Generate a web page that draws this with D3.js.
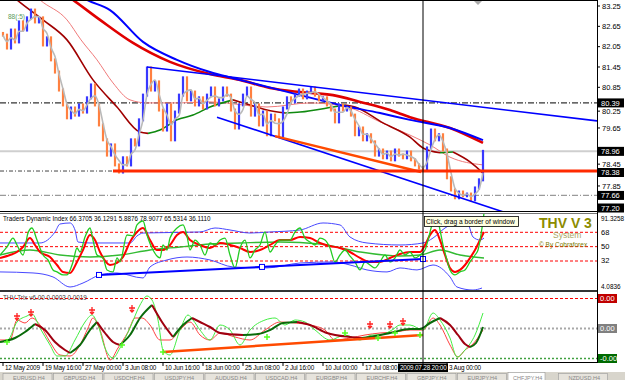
<!DOCTYPE html>
<html><head><meta charset="utf-8">
<script src="https://cdn.jsdelivr.net/npm/d3@7"></script>
<style>
html,body{margin:0;padding:0;background:#fff;}
svg{display:block;font-family:"Liberation Sans",Arial,sans-serif;}
</style></head><body>
<svg id="c" width="625" height="380"></svg>
<script>
// ---------- DATA ----------
const closes = [82.39,82.01,82.54,82.19,82.78,82.54,82.90,83.13,82.78,82.90,
82.10,82.31,81.66,81.30,80.77,80.33,79.95,80.24,80.03,80.33,
80.12,80.54,80.92,80.33,79.74,79.30,78.85,79.15,78.56,78.35,
78.77,78.56,79.30,79.15,79.89,80.62,81.42,80.77,81.01,80.18,
79.59,80.33,79.30,80.12,80.62,81.13,80.48,80.71,80.33,80.54,
80.24,80.62,80.83,80.33,80.48,80.83,80.62,80.18,79.65,80.33,
80.62,80.83,80.03,80.33,79.74,80.12,79.45,80.03,79.89,79.42,
80.24,80.54,80.42,80.62,80.77,80.54,80.71,80.83,80.62,80.48,
80.54,80.33,80.18,79.83,80.33,80.18,80.24,80.03,79.45,79.65,
79.30,79.45,79.24,78.85,79.00,78.77,78.94,78.71,79.00,78.85,
78.77,78.94,78.71,78.56,78.47,78.41,79.06,79.59,79.30,79.45,
79.00,78.18,77.82,77.59,77.76,77.65,77.70,77.53,77.88,78.12,78.96];

const timeLabels = ["12 May 2009","19 May 16:00","27 May 00:00","3 Jun 08:00","10 Jun 16:00","18 Jun 00:00","25 Jun 08:00","2 Jul 16:00","10 Jul 00:00","17 Jul 08:00","3 Aug 00:00"];
const timeLabelIdx = [0,10,20,30,40,50,60,70,80,90,111];
const cursorIdx = 105, cursorLabel = "2009.07.28 20:00";

const priceTicks = [83.25,82.65,82.05,81.45,80.85,80.25,79.65,78.45,77.85];
const priceBoxes = [80.39,78.96,78.38,77.66,77.20];

// moving averages [barIndex, price]
const blueMA = [[17,83.72],[21,83.43],[26.75,83.13],[35,82.19],[43.5,81.66],[51.75,81.30],[57.5,81.12],[64.25,80.92],[74.25,80.62],[84.25,80.33],[94.25,80.09],[101.75,79.89],[111.75,79.65],[120,79.29]];
const redMA = [[14,83.72],[17.5,83.43],[24.25,82.84],[32.5,82.16],[41.75,81.60],[51.75,81.24],[59.25,81.07],[66.75,80.83],[74.25,80.71],[82.5,80.62],[89.25,80.42],[96.75,80.18],[101.75,79.97],[111.75,79.65],[120,79.21]];
const pinkMA = [[6,83.8],[9.25,83.43],[16,82.84],[19.5,82.25],[23.5,81.66],[27.5,80.98],[31.75,80.48],[36,80.39],[44.25,80.39],[51.75,80.42],[66,80.27],[76.75,80.39],[86,80.27],[94.25,79.83],[101.75,79.44],[106.75,79.15],[111.75,78.79],[120,78.56]];
const trendMA = [[0,83.8],[3.5,83.43],[10,82.84],[16,82.25],[22.5,81.07],[28.5,80.27],[34.25,79.53],[36.25,79.49],[39.25,79.59],[43.5,79.89],[47.5,80.03],[51.75,80.27],[57.5,80.48],[61.75,80.33],[66,80.18],[70.5,80.09],[74.25,80.12],[82.5,80.27],[85.5,80.33],[88,80.27],[95,79.80],[101.75,79.38],[105,79.06],[109.25,78.92],[112.5,78.94],[116.75,78.65],[120,78.32]];

// trend lines [barIndex, price]
const upperTrend = [[36,81.45],[148.5,79.86]];
const lowerTrend = [[53.5,79.97],[130,76.98]];
const supportTrend = [[68,79.41],[104.5,78.35]];
const supportLevel = {from:27.5, value:78.38};

// Traders Dynamic Index [barIndex, value]
const tdiLevels = [68,50,32];
const tdiRsi = [[-0.75,39.5],[1,49.6],[2.5,60.8],[3.5,52.1],[5,39.5],[6.25,67.1],[7.25,73.4],[8.5,58.3],[10,39.5],[11.25,33.3],[12.5,20.8],[13.5,18.3],[15,14.5],[16,14.5],[17.5,30.8],[18.5,48.3],[19.25,43.3],[20.5,62.1],[21.75,73.4],[22.5,58.3],[23.5,39.5],[25,35.8],[26,20.8],[27.5,18.3],[28.5,35.8],[29.25,30.8],[31,64.6],[32.5,63.4],[33.5,77.2],[35,82.2],[36,64.6],[37.5,45.8],[39.25,35.8],[40,52.1],[41,45.8],[41.75,60.8],[43.5,73.4],[45,77.2],[46,63.4],[46.75,45.8],[48,58.3],[49.25,52.1],[50.5,39.5],[51.75,54.6],[53,52.1],[54.25,58.3],[55.5,60.8],[56.75,39.5],[58,23.3],[59.25,48.3],[60.5,58.3],[61.75,35.8],[63,45.8],[64.25,52.1],[65.5,68.4],[66.75,43.3],[68,52.1],[69.25,58.3],[70.5,58.3],[71.75,58.3],[73,68.4],[74.25,73.4],[75.5,60.8],[76.75,55.8],[78,52.1],[79.25,60.8],[80.5,58.3],[81.75,48.3],[83,30.8],[84.25,39.5],[85.5,45.8],[86.75,38.2],[88,30.8],[89.25,20.8],[90.5,30.8],[91.75,27.0],[93,23.3],[94.25,30.8],[95.5,39.5],[96.75,30.8],[98,35.8],[99.25,45.8],[100.5,39.5],[101.75,43.3],[103,35.8],[104.25,39.5],[105.5,45.8],[106.25,58.3],[107.25,77.2],[108.5,85.9],[109.25,70.9],[110,52.1],[111,33.3],[111.75,20.8],[113,14.5],[114.25,18.3],[115.5,20.8],[116.75,30.8],[118,39.5],[118.75,45.8],[119.75,73.4],[120.25,92.2]];
const tdiSignal = [[-0.75,35.8],[1.75,39.5],[3.5,43.3],[5,49.6],[6.75,60.8],[8,52.1],[9.25,43.3],[11.75,37.0],[13.5,27.0],[15,18.3],[16.75,17.0],[18.5,30.8],[20,45.8],[21.75,64.6],[23,58.3],[24.25,43.3],[26.75,27.0],[28.5,29.5],[30,37.0],[31.75,55.8],[33.5,68.4],[35,73.4],[36.75,58.3],[38.5,45.8],[40,45.8],[41.75,52.1],[43.5,64.6],[45,68.4],[46.75,58.3],[49.25,52.1],[51.75,48.3],[54.25,54.6],[56.75,52.1],[59.25,48.3],[61.75,43.3],[64.25,45.8],[66.75,52.1],[69.25,58.3],[71.75,58.3],[74.25,62.1],[76.75,60.8],[79.25,54.6],[81.75,50.8],[84.25,48.3],[86.75,43.3],[89.25,35.8],[91.75,30.8],[94.25,30.8],[96.75,35.8],[99.25,40.8],[101.75,43.3],[104.25,43.3],[105.5,52.1],[106.75,64.6],[108,70.9],[109.25,58.3],[110.5,39.5],[111.75,23.3],[113,18.3],[114.25,20.8],[115.5,27.0],[116.75,35.8],[118,45.8],[119.25,58.3],[120.25,68.4]];
const tdiBase = [[-0.75,39.5],[6.75,45.8],[14.25,39.5],[21.75,37.0],[29.25,39.5],[36.75,45.8],[44.25,49.6],[51.75,53.4],[59.25,54.6],[69.25,55.8],[79.25,53.4],[89.25,43.3],[99.25,38.2],[104.25,39.5],[109.25,45.8],[114.25,39.5],[120.25,35.8]];
const tdiUpper = [[-0.75,54.6],[9.25,54.6],[13,68.4],[14.25,78.4],[16.75,79.7],[18,70.9],[18.75,55.8],[21.75,54.6],[31.75,54.6],[33.5,63.4],[35,67.1],[49.25,68.4],[53,73.4],[56.75,70.9],[61.75,67.1],[66.75,68.4],[74.25,70.9],[80,79.7],[84.25,77.2],[86.75,62.1],[91,54.6],[99.25,52.1],[105,54.6],[107.5,60.8],[110.5,73.4],[114.25,80.9],[116,80.9],[117.5,62.1],[119.25,58.3],[120.25,60.8]];
const tdiLower = [[-0.75,18.3],[7.5,17.0],[12.5,12.0],[16.75,-0.6],[20,4.4],[24.25,14.5],[28.5,17.0],[35,10.7],[36.75,24.5],[41,33.3],[46,37.0],[51.75,33.3],[57.5,24.5],[66,23.3],[74.25,29.5],[82.5,30.8],[86.75,27.0],[91,20.8],[96,18.3],[99.25,23.3],[103.5,20.8],[107.5,27.0],[111.75,12.0],[113.5,-0.6],[117.5,-4.4],[119.75,-1.9]];
const tdiTrend = [[24,14.5],[105,34.5]];
const tdiTrendMarks = [24,64.75,105];

// THV Trix (units of 0.0001)
const trixLevels = [30,0,-30];
const trixSlow = [[-0.75,-13.5],[3,-9.5],[5.5,-3.5],[8,4.5],[10.5,-1.5],[13,-13.5],[15.5,-21.5],[16.75,-24.5],[19.25,-16.5],[21.75,-1.5],[23.5,6.5],[25.5,-4.5],[27.5,-13.5],[29.25,-16.5],[31.75,-6.5],[34.25,10.5],[37.25,23.5],[39.75,6.5],[42.5,-8.5],[45,3.5],[47.25,10.5],[49.25,6.5],[51.75,1.5],[54.25,-4.5],[60,-6.5],[63.75,-5.5],[66.75,-1.5],[70,5.5],[73.5,6.5],[76.75,3.5],[81,-4.5],[86.75,-8.5],[89.75,-9.5],[93,-7.5],[96.75,-4.5],[101.75,-0.5],[104.25,-0.5],[106.75,5.5],[109.25,10.5],[111.75,3.5],[113.75,-6.5],[115.5,-15.5],[116.75,-18.5],[118.25,-14.5],[120,1.5]];
const trixFast = [[-0.75,-13.5],[1.25,-11.5],[3.5,6.5],[6,12.5],[7.25,14.5],[9.25,0.5],[11.75,-16.5],[13.5,-27.5],[15.5,-27.5],[18,-11.5],[20.5,6.5],[22.25,13.5],[23.75,3.5],[25.5,-19.5],[27.5,-29.5],[29.25,-19.5],[31.75,0.5],[34.25,23.5],[36,32.5],[37.25,28.5],[38.75,8.5],[40,-21.5],[41.75,-26.5],[44.25,-1.5],[46.25,13.5],[47.5,8.5],[49.25,-1.5],[51.75,-11.5],[54.25,3.5],[56.75,-1.5],[59.25,-16.5],[61.75,-1.5],[65.5,8.5],[68,10.5],[70.5,3.5],[73,8.5],[75.5,6.5],[78,-1.5],[81.75,-11.5],[85.5,-6.5],[89.25,-11.5],[92.25,-6.5],[94.25,-6.5],[97.25,-1.5],[99.25,3.5],[101.75,3.5],[105,-1.5],[107.5,15.5],[109.25,8.5],[111.75,-9.5],[113.5,-28.5],[115.5,-21.5],[118,-6.5],[120,15.5]];
const trixSig = [[-0.75,-11.5],[1.75,-11.5],[3.5,8.5],[5.5,5.5],[7.25,10.5],[9.25,3.5],[11.75,-13.5],[14.25,-26.5],[16.75,-27.5],[19.25,-16.5],[21.25,0.5],[22.5,10.5],[24.25,-1.5],[26.75,-31.5],[28.75,-19.5],[31.25,-3.5],[33,10.5],[34.75,10.5],[36.75,3.5],[39.25,-11.5],[41.75,-11.5],[44.25,-1.5],[46.75,6.5],[49.25,-6.5],[51.75,-11.5],[54.25,-4.5],[58,-8.5],[61.75,-11.5],[65.5,-1.5],[69.25,6.5],[73,5.5],[76.75,3.5],[80.5,-1.5],[83,-11.5],[86.75,-9.5],[90.5,-6.5],[94.25,-4.5],[98,-3.5],[101.75,-1.5],[105,-1.5],[107.5,10.5],[109.25,3.5],[111.75,-16.5],[113.75,-28.5],[115.5,-21.5],[117.25,-16.5],[120,-1.5]];
const trixSellMarks = [[3.5,8.5],[7,12.5],[22.25,14.5],[32.25,16.5],[91.75,0.5],[96.75,0.5],[100,3.5]];
const trixBuyMarks = [[1,-13.5],[29.75,-16.5],[40,-23.5],[66,-8.5],[85.5,-4.5],[93.75,-9.5],[98,-4.5],[104.25,-6.5]];
const trixTrend = [[40,-23.5],[105,-6.5]];

const tabNames = ["EURUSD,H4","GBPUSD,H4","USDCHF,H4","USDJPY,H4","AUDUSD,H4","USDCAD,H4","EURGBP,H4","EURCHF,H4","GBPJPY,H4","EURJPY,H4","CHFJPY,H4","NZDUSD,H4"];

// ---------- DRAW ----------
const svg = d3.select("#c");
const PR = 597;
const x = d3.scaleLinear().domain([0,148.5]).range([3,597]);
const yP = d3.scaleLinear().domain([77.20,83.25]).range([211,6]);
const yT = d3.scaleLinear().domain([32,68]).range([261,232.3]);
const yX = d3.scaleLinear().domain([-30,30]).range([358.5,298.5]);

svg.append("rect").attr("width",625).attr("height",380).attr("fill","#fff");
const defs = svg.append("defs");
function clip(id,y0,y1){defs.append("clipPath").attr("id",id).append("rect").attr("x",0).attr("y",y0).attr("width",PR).attr("height",y1-y0);}
clip("cp1",1,211); clip("cp2",214,290); clip("cp3",293,362);

const g1 = svg.append("g").attr("clip-path","url(#cp1)");
const g2 = svg.append("g").attr("clip-path","url(#cp2)");
const g3 = svg.append("g").attr("clip-path","url(#cp3)");

const mline = (ys) => d3.line().x(d=>x(d[0])).y(d=>ys(d[1])).curve(d3.curveMonotoneX);
const sline = (ys) => d3.line().x(d=>x(d[0])).y(d=>ys(d[1]));

function hline(g,y,color,w,dash,x0){
  g.append("line").attr("x1",x0||0).attr("x2",PR).attr("y1",y).attr("y2",y)
   .attr("stroke",color).attr("stroke-width",w).attr("stroke-dasharray",dash||null);
}
function runsOf(pts){
  const runs=[]; let cur=[pts[0]]; let dir=null;
  for(let k=1;k<pts.length;k++){
    const d = pts[k][1]>=pts[k-1][1] ? 1 : -1;
    if(dir!==null && d!==dir){ runs.push({dir,pts:cur}); cur=[pts[k-1]]; }
    dir=d; cur.push(pts[k]);
  }
  runs.push({dir,pts:cur}); return runs;
}

// ---- main panel ----
hline(g1,yP(80.39),"#000",1,"6,2,1,2");
hline(g1,yP(78.96),"#cfcfcf",2);
hline(g1,yP(78.38),"#444",1,"4,2,1,2");
hline(g1,yP(77.66),"#9a9a9a",1.2,"6,2,1,2");

g1.append("path").datum(pinkMA).attr("d",mline(yP)).attr("fill","none").attr("stroke","#f07a7a").attr("stroke-width",1);
runsOf(trendMA).forEach(r=>{
  g1.append("path").datum(r.pts).attr("d",mline(yP)).attr("fill","none")
    .attr("stroke", r.dir>0 ? "#108a10" : "#a00000").attr("stroke-width",1.6);
});
g1.append("path").datum(redMA).attr("d",mline(yP)).attr("fill","none").attr("stroke","#e00000").attr("stroke-width",2.6);
g1.append("path").datum(blueMA).attr("d",mline(yP)).attr("fill","none").attr("stroke","#0000ff").attr("stroke-width",2);

// price bars (previous close -> close)
const bars = closes.map((c,i)=>({i, o: i>0?closes[i-1]:c+0.05, c}));
g1.selectAll("line.bar").data(bars).enter().append("line").attr("class","bar")
  .attr("x1",d=>x(d.i)).attr("x2",d=>x(d.i))
  .attr("y1",d=>Math.min(yP(d.o),yP(d.c))-1.5).attr("y2",d=>Math.max(yP(d.o),yP(d.c))+1.5)
  .attr("stroke",d=>d.c>=d.o?"#3838ff":"#ff8040").attr("stroke-width",2.2);
const grayPts = closes.map((c,i)=>{const s=closes.slice(Math.max(0,i-2),i+1);return [i,d3.mean(s)];});
g1.append("path").datum(grayPts).attr("d",mline(yP)).attr("fill","none").attr("stroke","#b9b9b9").attr("stroke-width",1.6);

// trend lines
g1.append("path").datum(upperTrend).attr("d",sline(yP)).attr("stroke","#0000ff").attr("stroke-width",1.6).attr("fill","none");
g1.append("path").datum(lowerTrend).attr("d",sline(yP)).attr("stroke","#0000ff").attr("stroke-width",1.6).attr("fill","none");
g1.append("path").datum(supportTrend).attr("d",sline(yP)).attr("stroke","#ff4a00").attr("stroke-width",2.5).attr("fill","none");
g1.append("line").attr("x1",x(supportLevel.from)).attr("x2",PR).attr("y1",yP(supportLevel.value)).attr("y2",yP(supportLevel.value))
  .attr("stroke","#ff2a00").attr("stroke-width",3);
g1.append("text").attr("x",8).attr("y",19).attr("font-size",6.5).attr("fill","#5a9a5a").text("88(:5)");
g1.append("path").attr("d","M474,1 L482,1 L478,5 Z").attr("fill","#aaa");

// ---- TDI panel ----
tdiLevels.forEach(v=>hline(g2,yT(v),"#ff0000",1,"3,2"));
g2.append("path").datum(tdiUpper).attr("d",mline(yT)).attr("fill","none").attr("stroke","#4848ff").attr("stroke-width",1);
g2.append("path").datum(tdiLower).attr("d",mline(yT)).attr("fill","none").attr("stroke","#4848ff").attr("stroke-width",1);
g2.append("path").datum(tdiBase).attr("d",mline(yT)).attr("fill","none").attr("stroke","#33bb33").attr("stroke-width",1.4);
g2.append("path").datum(tdiSignal).attr("d",mline(yT)).attr("fill","none").attr("stroke","#ff0000").attr("stroke-width",2);
g2.append("path").datum(tdiRsi).attr("d",mline(yT)).attr("fill","none").attr("stroke","#22cc22").attr("stroke-width",1.3);
g2.append("path").datum(tdiTrend).attr("d",sline(yT)).attr("stroke","#0000ff").attr("stroke-width",2).attr("fill","none");
const tdiTr = d3.scaleLinear().domain(tdiTrend.map(d=>d[0])).range(tdiTrend.map(d=>d[1]));
tdiTrendMarks.forEach(i=>g2.append("rect").attr("x",x(i)-2.5).attr("y",yT(tdiTr(i))-2.5).attr("width",5).attr("height",5).attr("fill","#fff").attr("stroke","#0000ff").attr("stroke-width",1));
svg.append("text").attr("x",3).attr("y",221).attr("font-size",6.3).attr("fill","#000")
  .text("Traders Dynamic Index 66.3705 36.1291 5.8876 78.9077 65.5314 36.1110");

// ---- Trix panel ----
hline(g3,yX(trixLevels[0]),"#ff0000",1,"3,2");
hline(g3,yX(trixLevels[1]),"#a8a8a8",2,"2,2");
hline(g3,yX(trixLevels[2]),"#40a040",1.5,"2,2");
g3.append("path").datum(trixSig).attr("d",mline(yX)).attr("fill","none").attr("stroke","#ff4040").attr("stroke-width",1);
g3.append("path").datum(trixFast).attr("d",mline(yX)).attr("fill","none").attr("stroke","#44ee44").attr("stroke-width",1);
runsOf(trixSlow).forEach(r=>{
  g3.append("path").datum(r.pts).attr("d",mline(yX)).attr("fill","none")
    .attr("stroke", r.dir>0 ? "#0a6a0a" : "#a00010").attr("stroke-width",2);
});
g3.append("path").datum(trixTrend).attr("d",sline(yX)).attr("stroke","#ff4a00").attr("stroke-width",2.5).attr("fill","none");
trixSellMarks.forEach(d=>{
  const cx=x(d[0]), cy=yX(d[1]);
  g3.append("path").attr("d",`M${cx-3},${cy-4}L${cx+3},${cy-4}M${cx},${cy-7}L${cx},${cy}M${cx-2},${cy-2}L${cx},${cy}L${cx+2},${cy-2}`)
    .attr("stroke","#ff2020").attr("stroke-width",1.3).attr("fill","none");
});
trixBuyMarks.forEach(d=>{
  const cx=x(d[0]), cy=yX(d[1]);
  g3.append("path").attr("d",`M${cx-3},${cy}L${cx+3},${cy}M${cx},${cy-3}L${cx},${cy+3}`)
    .attr("stroke","#55ff22").attr("stroke-width",1.5).attr("fill","none");
});
svg.append("text").attr("x",3).attr("y",300).attr("font-size",6.3).attr("fill","#444").text("THV Trix v6.00 0.0003 0.0019");

// ---- frames ----
svg.append("line").attr("x1",0).attr("x2",PR).attr("y1",0.5).attr("y2",0.5).attr("stroke","#000");
svg.append("line").attr("x1",0).attr("x2",PR+1).attr("y1",211.5).attr("y2",211.5).attr("stroke","#000");
svg.append("line").attr("x1",0).attr("x2",PR).attr("y1",213.5).attr("y2",213.5).attr("stroke","#777");
svg.append("rect").attr("x",0).attr("y",290).attr("width",PR+1).attr("height",2).attr("fill","#333");
svg.append("line").attr("x1",0).attr("x2",PR+1).attr("y1",362.5).attr("y2",362.5).attr("stroke","#000");
svg.append("line").attr("x1",PR+0.5).attr("x2",PR+0.5).attr("y1",0).attr("y2",363).attr("stroke","#000");

// crosshair
svg.append("line").attr("x1",x(cursorIdx)).attr("x2",x(cursorIdx)).attr("y1",0).attr("y2",372).attr("stroke","#000").attr("stroke-width",1);

// ---- price axis ----
const ax = svg.append("g").attr("font-size",7.5).attr("fill","#000");
const tickShift = {"80.25":3.5, "78.45":-4.5, "77.85":-3};
priceTicks.forEach(v=>{
  const yy = yP(v) + (tickShift[v.toFixed(2)]||0);
  ax.append("line").attr("x1",PR).attr("x2",PR+3).attr("y1",yy).attr("y2",yy).attr("stroke","#000");
  ax.append("text").attr("x",602).attr("y",yy+2.6).text(v.toFixed(2));
});
priceBoxes.forEach(v=>{
  const yy = v===78.38?172.5:(v===77.20?208:yP(v));
  ax.append("rect").attr("x",598).attr("y",yy-4.5).attr("width",26).attr("height",9).attr("fill","#000");
  ax.append("text").attr("x",601).attr("y",yy+2.7).attr("fill","#fff").text(v.toFixed(2));
});
// TDI axis
const tdiAxis = [[91.3258,"91.3258",218.5],[68,"68",null],[50,"50",null],[32,"32",null],[4.0836,"4.0836",286.5]];
tdiAxis.forEach(t=>{
  const yy = t[2]!==null ? t[2] : yT(t[0]);
  ax.append("text").attr("x",601).attr("y",yy+2.4).attr("font-size",t[0]>90||t[0]<5?6.4:7.5).text(t[1]);
});
const trixBoxes = [[trixLevels[0],"0.00","#c00000"],[trixLevels[1],"0.00","#808080"],[trixLevels[2],"-0.00","#006a00"]];
trixBoxes.forEach(b=>{
  const yy=yX(b[0]);
  ax.append("rect").attr("x",598).attr("y",yy-4.5).attr("width",19).attr("height",9).attr("fill",b[2]);
  ax.append("text").attr("x",600).attr("y",yy+2.7).attr("fill","#fff").text(b[1]);
});

// ---- time axis ----
const tx = svg.append("g").attr("font-size",6.4).attr("letter-spacing","-0.2").attr("fill","#000");
timeLabels.forEach((t,k)=>{
  const xx = x(timeLabelIdx[k]);
  tx.append("line").attr("x1",xx).attr("x2",xx).attr("y1",363).attr("y2",366).attr("stroke","#000");
  tx.append("text").attr("x",xx+2).attr("y",370).text(t);
});
const cx0 = x(cursorIdx);
tx.append("rect").attr("x",cx0-25).attr("y",363.5).attr("width",50).attr("height",8.5).attr("fill","#000");
tx.append("text").attr("x",cx0-23).attr("y",370).attr("fill","#fff").text(cursorLabel);

// ---- tooltip & branding ----
svg.append("rect").attr("x",424.5).attr("y",216.5).attr("width",94).attr("height",10).attr("fill","#ffffe1").attr("stroke","#000").attr("stroke-width",0.8);
svg.append("text").attr("x",426).attr("y",224).attr("font-size",6.6).attr("fill","#000").text("Click, drag a border of window");
svg.append("text").attr("x",539).attr("y",228).attr("font-size",14).attr("font-weight","bold").attr("fill","#8c8c00").text("THV V 3");
svg.append("text").attr("x",553).attr("y",238).attr("font-size",8.5).attr("fill","#a8a860").text("System");
svg.append("text").attr("x",539).attr("y",247).attr("font-size",6.5).attr("fill","#7a7a00").text("© By Cobraforex");

// ---- tabs ----
svg.append("rect").attr("x",0).attr("y",372).attr("width",625).attr("height",8).attr("fill","#d8d5cc");
tabNames.forEach((n,k)=>{
  const x0 = 3 + k*50.5, active = (k===10);
  svg.append("rect").attr("x",x0).attr("y",active?372.5:373.5).attr("width",active?37:49).attr("height",8)
    .attr("fill",active?"#fff":"#e6e3dc").attr("stroke","#999").attr("stroke-width",0.6);
  svg.append("text").attr("x",x0+(active?5:10)).attr("y",379.5).attr("font-size",5.5).attr("fill","#888").text(n);
});
</script>
</body></html>
